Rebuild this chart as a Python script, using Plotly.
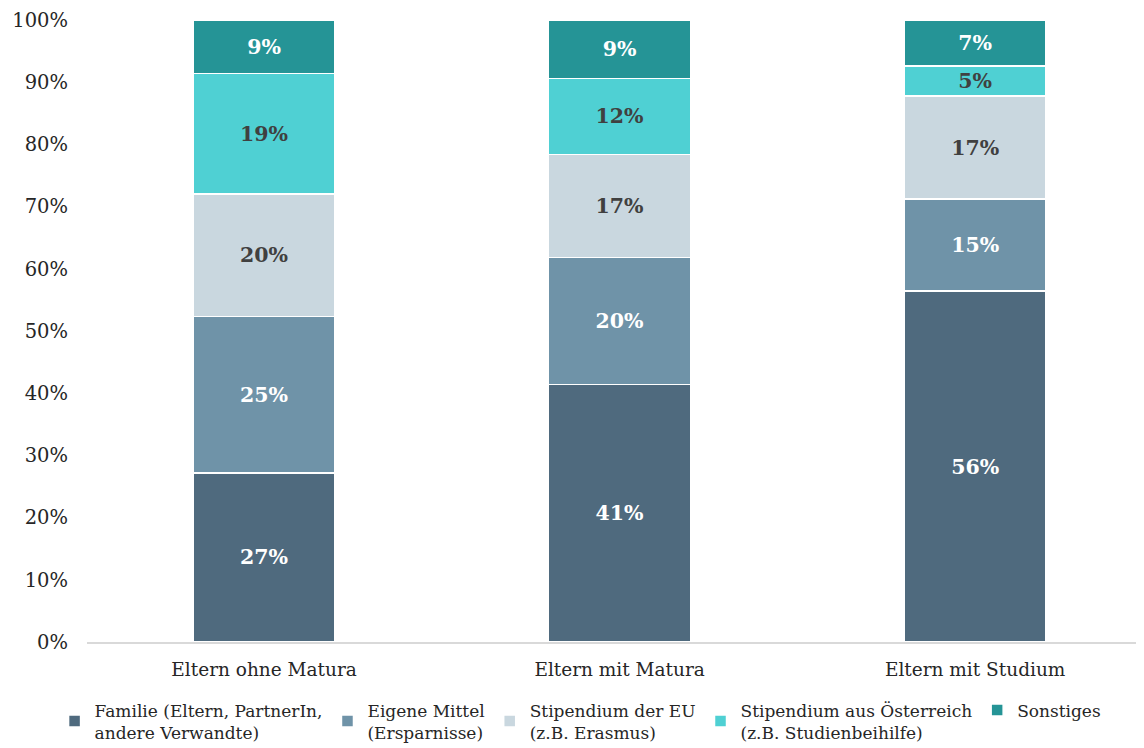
import plotly.graph_objects as go

# Kategorien (Bildungshintergrund der Eltern)
kategorien = ['Eltern ohne Matura', 'Eltern mit Matura', 'Eltern mit Studium']

# Finanzierungsquellen in % (von unten nach oben gestapelt)
familie = [27.2, 41.4, 56.4]
eigene_mittel = [25.1, 20.4, 14.8]
stipendium_eu = [19.7, 16.6, 16.6]
stipendium_at = [19.4, 12.2, 4.8]
sonstiges = [8.6, 9.4, 7.4]

serien = [
    ('Familie (Eltern, PartnerIn,<br>andere Verwandte)', familie, '#4f6a7e', 'white'),
    ('Eigene Mittel<br>(Ersparnisse)', eigene_mittel, '#6f93a8', 'white'),
    ('Stipendium der EU<br>(z.B. Erasmus)', stipendium_eu, '#c9d7df', '#404040'),
    ('Stipendium aus Österreich<br>(z.B. Studienbeihilfe)', stipendium_at, '#4fd0d3', '#404040'),
    ('Sonstiges', sonstiges, '#259496', 'white'),
]

FONT = 'DejaVu Serif'

fig = go.Figure()

for name, werte, farbe, textfarbe in serien:
    fig.add_trace(go.Bar(
        x=kategorien, y=werte,
        name=name,
        width=0.4,
        marker=dict(color=farbe, line=dict(color='white', width=1.5)),
        texttemplate='%{y:.0f}%',
        textposition='inside',
        insidetextanchor='middle',
        constraintext='none',
        textfont=dict(family=FONT, size=20.5, color=textfarbe, weight='bold'),
        hoverinfo='name+y',
    ))

# Seite hat 8px Rand (body margin), daher etwas kleiner
fig.update_layout(
    barmode='stack',
    width=1136, height=740,
    margin=dict(l=79, r=0, t=12, b=106),
    paper_bgcolor='white',
    plot_bgcolor='white',
    font=dict(family=FONT, size=18, color='#262626'),
    xaxis=dict(
        type='category',
        range=[-0.498, 2.475],
        automargin=False,
        showline=True, linecolor='#d9d9d9', linewidth=1.5,
        ticks='', tickfont=dict(size=18.5, color='#262626'),
        ticklabelstandoff=10,
    ),
    yaxis=dict(
        range=[0, 100],
        dtick=10,
        ticksuffix='%',
        automargin=False,
        showgrid=False, zeroline=False,
        tickfont=dict(size=19.5, color='#262626'),
        ticklabelstandoff=18,
    ),
    legend=dict(
        orientation='h',
        xref='container', x=0.041, xanchor='left',
        yref='container', y=0.075, yanchor='top',
        traceorder='normal',
        font=dict(size=17, color='#262626'),
    ),
    showlegend=True,
)

fig.write_html("out.html")
